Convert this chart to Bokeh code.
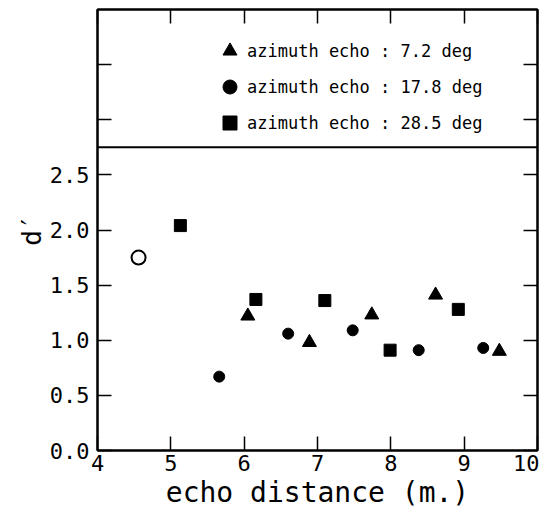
from bokeh.plotting import figure
from bokeh.models import (Range1d, LinearAxis, FixedTicker, NumeralTickFormatter,
                          Span, Legend, LegendItem)
from bokeh.embed import file_html
from bokeh.resources import INLINE

# ---- data ----
tri_x = [6.05, 6.89, 7.74, 8.61, 9.48]          # azimuth echo 7.2 deg
tri_y = [1.22, 0.98, 1.23, 1.41, 0.90]
circ_x = [5.66, 6.60, 7.48, 8.38, 9.26]         # azimuth echo 17.8 deg
circ_y = [0.67, 1.06, 1.09, 0.91, 0.93]
sq_x = [5.13, 6.16, 7.10, 7.99, 8.92]           # azimuth echo 28.5 deg
sq_y = [2.04, 1.37, 1.36, 0.91, 1.28]
open_x = [4.56]
open_y = [1.75]
legend_labels = ["azimuth echo : 7.2 deg", "azimuth echo : 17.8 deg", "azimuth echo : 28.5 deg"]
x_ticks = [4, 5, 6, 7, 8, 9, 10]
y_ticks = [0.0, 0.5, 1.0, 1.5, 2.0, 2.5]
y_ticks_unlabeled = [3.0, 3.5]
separator_y = 2.75

FONT = "DejaVu Sans Mono"

p = figure(frame_width=440, frame_height=441,
           x_range=Range1d(4, 10), y_range=Range1d(0, 4),
           output_backend="svg", toolbar_location=None,
           min_border_left=97, min_border_top=9, min_border_right=2, min_border_bottom=4)
p.xgrid.visible = False
p.ygrid.visible = False
p.outline_line_color = "black"
p.outline_line_width = 2
p.background_fill_color = "white"
p.border_fill_color = "white"

def style_axis(ax, ticks, minor=()):
    ax.ticker = FixedTicker(ticks=list(ticks), minor_ticks=list(minor))
    ax.major_tick_in = 14
    ax.major_tick_out = 0
    ax.minor_tick_in = 14
    ax.minor_tick_out = 0
    ax.major_tick_line_width = 1.5
    ax.minor_tick_line_width = 1.5
    ax.axis_line_width = 2
    ax.major_label_text_font = FONT
    ax.major_label_text_font_size = "22px"
    ax.major_label_text_color = "black"
    ax.axis_label_text_font = FONT
    ax.axis_label_text_font_style = "normal"
    ax.axis_label_text_color = "black"

xa = p.xaxis[0]
style_axis(xa, x_ticks)
xa.axis_label = "echo distance (m.)"
xa.axis_label_text_font_size = "28px"
xa.major_label_standoff = 4
xa.axis_label_standoff = 2

ya = p.yaxis[0]
style_axis(ya, y_ticks, y_ticks_unlabeled)
ya.formatter = NumeralTickFormatter(format="0.0")
ya.axis_label = "d\u2032"
ya.axis_label_text_font_size = "26px"
ya.major_label_standoff = 8
ya.axis_label_standoff = 0

top = LinearAxis()
style_axis(top, [], x_ticks)
top.major_label_text_color = None
top.major_label_standoff = 0
p.add_layout(top, "above")

right = LinearAxis()
style_axis(right, [], y_ticks + y_ticks_unlabeled)
right.major_label_text_color = None
right.major_label_standoff = 0
p.add_layout(right, "right")

p.add_layout(Span(location=separator_y, dimension="width", line_color="black", line_width=2))

r_tri = p.scatter(tri_x, tri_y, marker="triangle", size=14, color="black")
r_circ = p.scatter(circ_x, circ_y, marker="circle", size=11, color="black")
r_sq = p.scatter(sq_x, sq_y, marker="square", size=12, color="black")
p.scatter(open_x, open_y, marker="circle", size=14, fill_color="white",
          line_color="black", line_width=2)

legend = Legend(items=[LegendItem(label=legend_labels[0], renderers=[r_tri]),
                       LegendItem(label=legend_labels[1], renderers=[r_circ]),
                       LegendItem(label=legend_labels[2], renderers=[r_sq])],
                location=(115, 310), orientation="vertical",
                label_text_font=FONT, label_text_font_size="17px",
                label_text_color="black",
                glyph_width=35, glyph_height=35, label_height=35,
                label_standoff=0, spacing=1, padding=0, margin=0,
                border_line_color=None, background_fill_alpha=0)
p.add_layout(legend, "center")

open("out.html", "w").write(file_html(p, INLINE))
